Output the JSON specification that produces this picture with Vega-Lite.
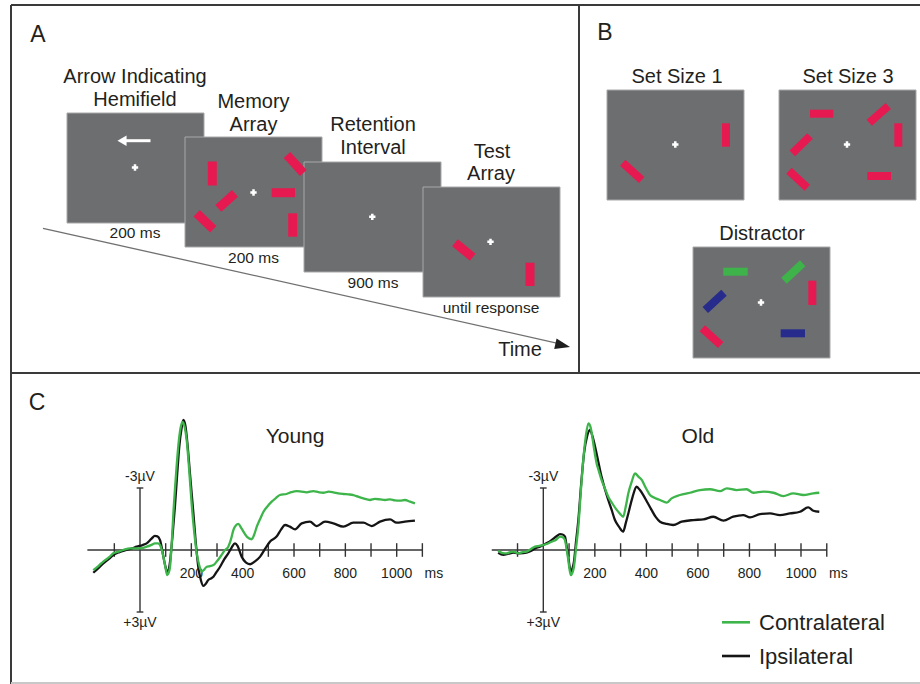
{
  "$schema": "https://vega.github.io/schema/vega-lite/v6.json",
  "width": 920,
  "height": 684,
  "autosize": "none",
  "padding": 0,
  "background": "white",
  "config": {"view": {"stroke": null}, "text": {"font": "Liberation Sans", "color": "#231f20"}},
  "layer": [
    {
      "encoding": {
        "x": {"field": "x", "type": "quantitative", "scale": {"domain": [0, 920], "nice": false, "zero": false}, "axis": null},
        "y": {"field": "y", "type": "quantitative", "scale": {"domain": [0, 684], "nice": false, "zero": false, "reverse": true}, "axis": null}
      },
      "layer": [
        {
          "data": {"values": [
            {"x": 11, "y": 5, "x2": 920, "y2": 5},
            {"x": 11, "y": 5, "x2": 11, "y2": 684},
            {"x": 579, "y": 5, "x2": 579, "y2": 373},
            {"x": 11, "y": 373, "x2": 920, "y2": 373}
          ]},
          "mark": {"type": "rule", "color": "#3a3a3a", "strokeWidth": 2},
          "encoding": {"x2": {"field": "x2"}, "y2": {"field": "y2"}}
        },
        {
          "data": {"values": [{"x": 11, "y": 683, "x2": 920, "y2": 683}]},
          "mark": {"type": "rule", "color": "#c8c8c8", "strokeWidth": 2},
          "encoding": {"x2": {"field": "x2"}, "y2": {"field": "y2"}}
        },
        {
          "data": {"values": [
            {"screen": "cue", "x": 67, "x2": 204, "y": 113, "y2": 223},
            {"screen": "memory", "x": 185, "x2": 322, "y": 137, "y2": 247},
            {"screen": "retention", "x": 304, "x2": 441, "y": 162, "y2": 272},
            {"screen": "test", "x": 423, "x2": 560, "y": 187, "y2": 297},
            {"screen": "ss1", "x": 607, "x2": 744, "y": 90, "y2": 200},
            {"screen": "ss3", "x": 779, "x2": 916, "y": 90, "y2": 200},
            {"screen": "distractor", "x": 693, "x2": 830, "y": 247, "y2": 358}
          ]},
          "mark": {"type": "rect", "fill": "#6d6e70", "stroke": "#a8a8a8", "strokeWidth": 1},
          "encoding": {"x2": {"field": "x2"}, "y2": {"field": "y2"}}
        },
        {
          "data": {"values": [
            {"panel": "A", "hue": "red", "x": 212.3, "y": 161.5, "x2": 212.3, "y2": 185.5},
            {"panel": "A", "hue": "red", "x": 218.3, "y": 208.3, "x2": 235, "y2": 193.3},
            {"panel": "A", "hue": "red", "x": 196.7, "y": 213.3, "x2": 213.3, "y2": 229.3},
            {"panel": "A", "hue": "red", "x": 271.7, "y": 192.7, "x2": 295, "y2": 192.7},
            {"panel": "A", "hue": "red", "x": 287, "y": 155, "x2": 303.3, "y2": 173},
            {"panel": "A", "hue": "red", "x": 292.7, "y": 213.3, "x2": 292.7, "y2": 236.7},
            {"panel": "A", "hue": "red", "x": 455, "y": 242.7, "x2": 472.7, "y2": 257.3},
            {"panel": "A", "hue": "red", "x": 530, "y": 262.7, "x2": 530, "y2": 286},
            {"panel": "B", "hue": "red", "x": 726, "y": 123.3, "x2": 726, "y2": 146.7},
            {"panel": "B", "hue": "red", "x": 622.7, "y": 162.7, "x2": 641.7, "y2": 180},
            {"panel": "B", "hue": "red", "x": 810, "y": 113.7, "x2": 833.3, "y2": 113.7},
            {"panel": "B", "hue": "red", "x": 869.3, "y": 122.7, "x2": 888.3, "y2": 106},
            {"panel": "B", "hue": "red", "x": 898.3, "y": 123.3, "x2": 898.3, "y2": 146.7},
            {"panel": "B", "hue": "red", "x": 792.3, "y": 153.3, "x2": 810, "y2": 136},
            {"panel": "B", "hue": "red", "x": 789, "y": 170.7, "x2": 807.3, "y2": 187.7},
            {"panel": "B", "hue": "red", "x": 867.3, "y": 176, "x2": 891, "y2": 176},
            {"panel": "B", "hue": "green", "x": 723.3, "y": 271.7, "x2": 747.7, "y2": 271.7},
            {"panel": "B", "hue": "green", "x": 784, "y": 280.7, "x2": 802.7, "y2": 263.3},
            {"panel": "B", "hue": "red", "x": 812.3, "y": 280.7, "x2": 812.3, "y2": 305},
            {"panel": "B", "hue": "blue", "x": 705.3, "y": 310, "x2": 724, "y2": 292.7},
            {"panel": "B", "hue": "red", "x": 702.3, "y": 328.3, "x2": 720.7, "y2": 345},
            {"panel": "B", "hue": "blue", "x": 780.7, "y": 333.3, "x2": 805, "y2": 333.3}
          ]},
          "layer": [
            {
              "transform": [{"filter": "datum.panel === 'A'"}],
              "mark": {"type": "rule", "strokeWidth": 9, "strokeCap": "butt"},
              "encoding": {
                "x2": {"field": "x2"}, "y2": {"field": "y2"},
                "color": {"field": "hue", "type": "nominal", "scale": {"domain": ["red", "green", "blue"], "range": ["#e61a50", "#3db34a", "#262b8c"]}, "legend": null}
              }
            },
            {
              "transform": [{"filter": "datum.panel === 'B'"}],
              "mark": {"type": "rule", "strokeWidth": 8, "strokeCap": "butt"},
              "encoding": {
                "x2": {"field": "x2"}, "y2": {"field": "y2"},
                "color": {"field": "hue", "type": "nominal", "scale": {"domain": ["red", "green", "blue"], "range": ["#e61a50", "#3db34a", "#262b8c"]}, "legend": null}
              }
            }
          ]
        },
        {
          "data": {"values": [
            {"x": 135, "y": 167.5}, {"x": 253.5, "y": 192.5}, {"x": 372.3, "y": 216.8}, {"x": 490.5, "y": 241.8},
            {"x": 675.3, "y": 144.5}, {"x": 847, "y": 144.5}, {"x": 761, "y": 302.5}
          ]},
          "mark": {"type": "point", "shape": "cross", "filled": true, "color": "white", "size": 40, "opacity": 1}
        },
        {
          "data": {"values": [{"x": 125, "y": 140.7, "x2": 150.5, "y2": 140.7}]},
          "mark": {"type": "rule", "color": "white", "strokeWidth": 3},
          "encoding": {"x2": {"field": "x2"}, "y2": {"field": "y2"}}
        },
        {
          "data": {"values": [{"x": 122, "y": 140.7}]},
          "mark": {"type": "point", "shape": "triangle-left", "filled": true, "color": "white", "size": 110, "opacity": 1}
        },
        {
          "data": {"values": [{"x": 43, "y": 228.3, "x2": 560, "y2": 343.8}]},
          "mark": {"type": "rule", "color": "#707070", "strokeWidth": 1.3},
          "encoding": {"x2": {"field": "x2"}, "y2": {"field": "y2"}}
        },
        {
          "data": {"values": [{"x": 562.7, "y": 345.3}]},
          "mark": {"type": "point", "shape": "M1,0L-1,-0.72L-1,0.72Z", "angle": 12.6, "filled": true, "color": "#1e1e1e", "size": 225, "opacity": 1}
        },
        {
          "data": {"values": [
            {"kind": "panel", "text": "A", "x": 38, "y": 35},
            {"kind": "panel", "text": "B", "x": 605, "y": 33},
            {"kind": "panel", "text": "C", "x": 37, "y": 403},
            {"kind": "title", "text": "Arrow Indicating", "x": 135, "y": 77},
            {"kind": "title", "text": "Hemifield", "x": 135, "y": 100},
            {"kind": "title", "text": "Memory", "x": 253.5, "y": 102},
            {"kind": "title", "text": "Array", "x": 253.5, "y": 124.5},
            {"kind": "title", "text": "Retention", "x": 373, "y": 125},
            {"kind": "title", "text": "Interval", "x": 373, "y": 148},
            {"kind": "title", "text": "Test", "x": 492, "y": 151.5},
            {"kind": "title", "text": "Array", "x": 491, "y": 173.5},
            {"kind": "title", "text": "Time", "x": 520, "y": 350},
            {"kind": "title", "text": "Set Size 1", "x": 677, "y": 77},
            {"kind": "title", "text": "Set Size 3", "x": 848, "y": 77},
            {"kind": "title", "text": "Distractor", "x": 762, "y": 234},
            {"kind": "dur", "text": "200 ms", "x": 135, "y": 233},
            {"kind": "dur", "text": "200 ms", "x": 253.5, "y": 258},
            {"kind": "dur", "text": "900 ms", "x": 373, "y": 283},
            {"kind": "dur", "text": "until response", "x": 491, "y": 308}
          ]},
          "layer": [
            {
              "transform": [{"filter": "datum.kind === 'panel'"}],
              "mark": {"type": "text", "fontSize": 23, "align": "center", "baseline": "middle"},
              "encoding": {"text": {"field": "text"}}
            },
            {
              "transform": [{"filter": "datum.kind === 'title'"}],
              "mark": {"type": "text", "fontSize": 20, "align": "center", "baseline": "middle"},
              "encoding": {"text": {"field": "text"}}
            },
            {
              "transform": [{"filter": "datum.kind === 'dur'"}],
              "mark": {"type": "text", "fontSize": 15.5, "align": "center", "baseline": "middle"},
              "encoding": {"text": {"field": "text"}}
            }
          ]
        },
        {
          "data": {"values": [
            {"series": "Contralateral", "x": 722, "y": 622.3, "x2": 750, "tx": 759},
            {"series": "Ipsilateral", "x": 722, "y": 656, "x2": 750, "tx": 759}
          ]},
          "layer": [
            {
              "mark": {"type": "rule", "strokeWidth": 2.6},
              "encoding": {
                "x2": {"field": "x2"},
                "stroke": {"field": "series", "type": "nominal", "scale": {"domain": ["Contralateral", "Ipsilateral"], "range": ["#3db54a", "#151515"]}, "legend": null}
              }
            },
            {
              "mark": {"type": "text", "fontSize": 22, "align": "left", "baseline": "middle", "dy": 1},
              "encoding": {
                "x": {"field": "tx", "type": "quantitative"},
                "text": {"field": "series"}
              }
            }
          ]
        }
      ]
    },
    {
      "encoding": {
        "x": {"field": "t", "type": "quantitative", "scale": {"domain": [-545.4, 3038.6], "nice": false, "zero": false}, "axis": null},
        "y": {"field": "v", "type": "quantitative", "scale": {"domain": [-26.61, 6.483], "nice": false, "zero": false, "reverse": true}, "axis": null}
      },
      "layer": [
        {
          "data": {"values": [
            {"t": -205, "v": 0, "t2": 1100, "v2": 0},
            {"t": 0, "v": -3, "t2": 0, "v2": 3},
            {"t": -13, "v": -3, "t2": 13, "v2": -3},
            {"t": -13, "v": 3, "t2": 13, "v2": 3},
            {"t": -100, "v": -0.33, "t2": -100, "v2": 0.33},
            {"t": 100, "v": -0.33, "t2": 100, "v2": 0.33},
            {"t": 200, "v": -0.33, "t2": 200, "v2": 0.33},
            {"t": 300, "v": -0.33, "t2": 300, "v2": 0.33},
            {"t": 400, "v": -0.33, "t2": 400, "v2": 0.33},
            {"t": 500, "v": -0.33, "t2": 500, "v2": 0.33},
            {"t": 600, "v": -0.33, "t2": 600, "v2": 0.33},
            {"t": 700, "v": -0.33, "t2": 700, "v2": 0.33},
            {"t": 800, "v": -0.33, "t2": 800, "v2": 0.33},
            {"t": 900, "v": -0.33, "t2": 900, "v2": 0.33},
            {"t": 1000, "v": -0.33, "t2": 1000, "v2": 0.33},
            {"t": 1100, "v": -0.33, "t2": 1100, "v2": 0.33}
          ]},
          "mark": {"type": "rule", "color": "#333333", "strokeWidth": 1.4},
          "encoding": {"x2": {"field": "t2"}, "y2": {"field": "v2"}}
        },
        {
          "data": {"values": [
            {"t": 200, "v": 1.18, "label": "200"},
            {"t": 400, "v": 1.18, "label": "400"},
            {"t": 600, "v": 1.18, "label": "600"},
            {"t": 800, "v": 1.18, "label": "800"},
            {"t": 1000, "v": 1.18, "label": "1000"},
            {"t": 1145, "v": 1.18, "label": "ms"},
            {"t": 0, "v": -3.55, "label": "-3µV"},
            {"t": 0, "v": 3.55, "label": "+3µV"}
          ]},
          "mark": {"type": "text", "fontSize": 14, "align": "center", "baseline": "middle"},
          "encoding": {"text": {"field": "label"}}
        },
        {
          "data": {"values": [{"t": 604, "v": -5.47, "label": "Young"}]},
          "mark": {"type": "text", "fontSize": 21, "align": "center", "baseline": "middle"},
          "encoding": {"text": {"field": "label"}}
        },
        {
          "data": {"values": [
            {"t": -182, "v": 1.1}, {"t": -160, "v": 0.85}, {"t": -143, "v": 0.65}, {"t": -120, "v": 0.42}, {"t": -104, "v": 0.24},
            {"t": -80, "v": 0.1}, {"t": -52, "v": 0.0}, {"t": -30, "v": -0.08}, {"t": -13, "v": -0.16}, {"t": 10, "v": -0.24},
            {"t": 26, "v": -0.32}, {"t": 45, "v": -0.55}, {"t": 58, "v": -0.68}, {"t": 68, "v": -0.66}, {"t": 78, "v": -0.48},
            {"t": 85, "v": -0.1}, {"t": 91, "v": 0.32}, {"t": 100, "v": 0.85}, {"t": 106, "v": 1.1}, {"t": 112, "v": 0.95},
            {"t": 117, "v": 0.56}, {"t": 126, "v": -0.6}, {"t": 136, "v": -2.1}, {"t": 145, "v": -3.7}, {"t": 153, "v": -5.0},
            {"t": 162, "v": -5.9}, {"t": 169, "v": -6.3}, {"t": 177, "v": -6.0}, {"t": 184, "v": -5.24}, {"t": 196, "v": -3.5},
            {"t": 208, "v": -1.77}, {"t": 217, "v": -0.4}, {"t": 227, "v": 0.81}, {"t": 237, "v": 1.45}, {"t": 247, "v": 1.74},
            {"t": 257, "v": 1.62}, {"t": 266, "v": 1.45}, {"t": 276, "v": 1.38}, {"t": 286, "v": 1.29}, {"t": 299, "v": 1.05},
            {"t": 312, "v": 0.81}, {"t": 328, "v": 0.45}, {"t": 344, "v": 0.16}, {"t": 357, "v": -0.12}, {"t": 370, "v": -0.32},
            {"t": 380, "v": -0.2}, {"t": 396, "v": 0.32}, {"t": 412, "v": 0.6}, {"t": 429, "v": 0.69}, {"t": 448, "v": 0.55},
            {"t": 468, "v": 0.32}, {"t": 487, "v": -0.05}, {"t": 506, "v": -0.4}, {"t": 532, "v": -0.65}, {"t": 550, "v": -1.0},
            {"t": 565, "v": -1.21}, {"t": 584, "v": -1.13}, {"t": 604, "v": -1.0}, {"t": 630, "v": -1.29}, {"t": 662, "v": -1.37},
            {"t": 688, "v": -1.16}, {"t": 721, "v": -1.37}, {"t": 753, "v": -1.29}, {"t": 792, "v": -1.13}, {"t": 831, "v": -1.32},
            {"t": 870, "v": -1.32}, {"t": 903, "v": -1.16}, {"t": 935, "v": -1.37}, {"t": 974, "v": -1.48}, {"t": 1000, "v": -1.32},
            {"t": 1032, "v": -1.37}, {"t": 1071, "v": -1.42}
          ]},
          "mark": {"type": "line", "color": "#151515", "strokeWidth": 2.3, "interpolate": "monotone"}
        },
        {
          "data": {"values": [
            {"t": -182, "v": 0.97}, {"t": -160, "v": 0.75}, {"t": -143, "v": 0.56}, {"t": -120, "v": 0.35}, {"t": -104, "v": 0.16},
            {"t": -85, "v": 0.08}, {"t": -65, "v": 0.0}, {"t": -39, "v": -0.08}, {"t": 0, "v": -0.08}, {"t": 26, "v": -0.16},
            {"t": 45, "v": -0.25}, {"t": 58, "v": -0.32}, {"t": 70, "v": -0.32}, {"t": 78, "v": -0.24}, {"t": 85, "v": 0.0},
            {"t": 91, "v": 0.32}, {"t": 100, "v": 0.9}, {"t": 106, "v": 1.21}, {"t": 112, "v": 1.1}, {"t": 117, "v": 0.81},
            {"t": 124, "v": -0.4}, {"t": 130, "v": -1.77}, {"t": 140, "v": -3.6}, {"t": 149, "v": -5.0}, {"t": 158, "v": -5.9},
            {"t": 166, "v": -6.2}, {"t": 174, "v": -5.95}, {"t": 182, "v": -5.3}, {"t": 192, "v": -3.8}, {"t": 201, "v": -2.26},
            {"t": 211, "v": -0.9}, {"t": 221, "v": 0.16}, {"t": 230, "v": 0.7}, {"t": 240, "v": 1.05}, {"t": 250, "v": 0.95},
            {"t": 260, "v": 0.81}, {"t": 273, "v": 0.78}, {"t": 286, "v": 0.73}, {"t": 299, "v": 0.56}, {"t": 318, "v": 0.24},
            {"t": 331, "v": 0.0}, {"t": 344, "v": -0.16}, {"t": 354, "v": -0.5}, {"t": 364, "v": -0.97}, {"t": 374, "v": -1.2},
            {"t": 383, "v": -1.26}, {"t": 393, "v": -1.1}, {"t": 403, "v": -0.89}, {"t": 418, "v": -0.62}, {"t": 435, "v": -0.52},
            {"t": 445, "v": -0.75}, {"t": 455, "v": -1.13}, {"t": 468, "v": -1.5}, {"t": 481, "v": -1.85}, {"t": 497, "v": -2.12},
            {"t": 513, "v": -2.34}, {"t": 530, "v": -2.52}, {"t": 545, "v": -2.66}, {"t": 571, "v": -2.71}, {"t": 590, "v": -2.8},
            {"t": 610, "v": -2.85}, {"t": 630, "v": -2.82}, {"t": 649, "v": -2.79}, {"t": 675, "v": -2.85}, {"t": 695, "v": -2.8},
            {"t": 714, "v": -2.77}, {"t": 735, "v": -2.82}, {"t": 753, "v": -2.79}, {"t": 772, "v": -2.74}, {"t": 792, "v": -2.71},
            {"t": 812, "v": -2.69}, {"t": 831, "v": -2.66}, {"t": 850, "v": -2.58}, {"t": 870, "v": -2.5}, {"t": 896, "v": -2.42},
            {"t": 915, "v": -2.47}, {"t": 935, "v": -2.45}, {"t": 955, "v": -2.42}, {"t": 974, "v": -2.45}, {"t": 993, "v": -2.4},
            {"t": 1013, "v": -2.39}, {"t": 1032, "v": -2.42}, {"t": 1052, "v": -2.34}, {"t": 1071, "v": -2.26}
          ]},
          "mark": {"type": "line", "color": "#3db54a", "strokeWidth": 2.3, "interpolate": "monotone"}
        }
      ]
    },
    {
      "encoding": {
        "x": {"field": "t", "type": "quantitative", "scale": {"domain": [-2108.3, 1461.8], "nice": false, "zero": false}, "axis": null},
        "y": {"field": "v", "type": "quantitative", "scale": {"domain": [-26.61, 6.483], "nice": false, "zero": false, "reverse": true}, "axis": null}
      },
      "layer": [
        {
          "data": {"values": [
            {"t": -200, "v": 0, "t2": 1100, "v2": 0},
            {"t": 0, "v": -3, "t2": 0, "v2": 3},
            {"t": -13, "v": -3, "t2": 13, "v2": -3},
            {"t": -13, "v": 3, "t2": 13, "v2": 3},
            {"t": -100, "v": -0.33, "t2": -100, "v2": 0.33},
            {"t": 100, "v": -0.33, "t2": 100, "v2": 0.33},
            {"t": 200, "v": -0.33, "t2": 200, "v2": 0.33},
            {"t": 300, "v": -0.33, "t2": 300, "v2": 0.33},
            {"t": 400, "v": -0.33, "t2": 400, "v2": 0.33},
            {"t": 500, "v": -0.33, "t2": 500, "v2": 0.33},
            {"t": 600, "v": -0.33, "t2": 600, "v2": 0.33},
            {"t": 700, "v": -0.33, "t2": 700, "v2": 0.33},
            {"t": 800, "v": -0.33, "t2": 800, "v2": 0.33},
            {"t": 900, "v": -0.33, "t2": 900, "v2": 0.33},
            {"t": 1000, "v": -0.33, "t2": 1000, "v2": 0.33},
            {"t": 1100, "v": -0.33, "t2": 1100, "v2": 0.33}
          ]},
          "mark": {"type": "rule", "color": "#333333", "strokeWidth": 1.4},
          "encoding": {"x2": {"field": "t2"}, "y2": {"field": "v2"}}
        },
        {
          "data": {"values": [
            {"t": 200, "v": 1.18, "label": "200"},
            {"t": 400, "v": 1.18, "label": "400"},
            {"t": 600, "v": 1.18, "label": "600"},
            {"t": 800, "v": 1.18, "label": "800"},
            {"t": 1000, "v": 1.18, "label": "1000"},
            {"t": 1145, "v": 1.18, "label": "ms"},
            {"t": 0, "v": -3.55, "label": "-3µV"},
            {"t": 0, "v": 3.55, "label": "+3µV"}
          ]},
          "mark": {"type": "text", "fontSize": 14, "align": "center", "baseline": "middle"},
          "encoding": {"text": {"field": "label"}}
        },
        {
          "data": {"values": [{"t": 600, "v": -5.47, "label": "Old"}]},
          "mark": {"type": "text", "fontSize": 21, "align": "center", "baseline": "middle"},
          "encoding": {"text": {"field": "label"}}
        },
        {
          "data": {"values": [
            {"t": -175, "v": 0.13}, {"t": -155, "v": 0.24}, {"t": -135, "v": 0.18}, {"t": -116, "v": 0.13}, {"t": -90, "v": 0.16},
            {"t": -65, "v": 0.13}, {"t": -48, "v": 0.05}, {"t": -32, "v": -0.08}, {"t": -15, "v": -0.15}, {"t": 0, "v": -0.24},
            {"t": 16, "v": -0.35}, {"t": 32, "v": -0.48}, {"t": 50, "v": -0.65}, {"t": 65, "v": -0.77}, {"t": 75, "v": -0.75},
            {"t": 84, "v": -0.65}, {"t": 91, "v": -0.15}, {"t": 97, "v": 0.32}, {"t": 102, "v": 0.8}, {"t": 107, "v": 1.05},
            {"t": 113, "v": 0.9}, {"t": 119, "v": 0.56}, {"t": 127, "v": -0.4}, {"t": 136, "v": -1.45}, {"t": 147, "v": -3.2},
            {"t": 158, "v": -4.68}, {"t": 170, "v": -5.5}, {"t": 181, "v": -5.81}, {"t": 191, "v": -5.5}, {"t": 201, "v": -5.0},
            {"t": 213, "v": -4.3}, {"t": 226, "v": -3.55}, {"t": 239, "v": -2.95}, {"t": 252, "v": -2.42}, {"t": 265, "v": -1.95},
            {"t": 278, "v": -1.45}, {"t": 294, "v": -1.12}, {"t": 310, "v": -0.89}, {"t": 320, "v": -1.3}, {"t": 330, "v": -1.77},
            {"t": 346, "v": -2.55}, {"t": 362, "v": -3.06}, {"t": 375, "v": -2.9}, {"t": 388, "v": -2.66}, {"t": 404, "v": -2.3},
            {"t": 420, "v": -1.94}, {"t": 436, "v": -1.6}, {"t": 453, "v": -1.37}, {"t": 479, "v": -1.26}, {"t": 504, "v": -1.21},
            {"t": 537, "v": -1.37}, {"t": 582, "v": -1.45}, {"t": 621, "v": -1.48}, {"t": 660, "v": -1.61}, {"t": 699, "v": -1.42},
            {"t": 737, "v": -1.61}, {"t": 776, "v": -1.69}, {"t": 802, "v": -1.58}, {"t": 841, "v": -1.74}, {"t": 880, "v": -1.77},
            {"t": 918, "v": -1.69}, {"t": 957, "v": -1.77}, {"t": 996, "v": -1.85}, {"t": 1028, "v": -2.06}, {"t": 1048, "v": -1.9},
            {"t": 1071, "v": -1.85}
          ]},
          "mark": {"type": "line", "color": "#151515", "strokeWidth": 2.3, "interpolate": "monotone"}
        },
        {
          "data": {"values": [
            {"t": -175, "v": 0.03}, {"t": -158, "v": 0.15}, {"t": -142, "v": 0.16}, {"t": -128, "v": 0.1}, {"t": -116, "v": 0.08},
            {"t": -97, "v": 0.16}, {"t": -80, "v": 0.1}, {"t": -65, "v": 0.08}, {"t": -48, "v": -0.05}, {"t": -32, "v": -0.16},
            {"t": -15, "v": -0.2}, {"t": 0, "v": -0.24}, {"t": 16, "v": -0.3}, {"t": 32, "v": -0.4}, {"t": 50, "v": -0.5},
            {"t": 65, "v": -0.65}, {"t": 75, "v": -0.62}, {"t": 84, "v": -0.48}, {"t": 91, "v": 0.0}, {"t": 97, "v": 0.48},
            {"t": 102, "v": 0.95}, {"t": 107, "v": 1.21}, {"t": 113, "v": 1.1}, {"t": 119, "v": 0.81}, {"t": 127, "v": -0.1},
            {"t": 136, "v": -1.13}, {"t": 146, "v": -2.9}, {"t": 155, "v": -4.35}, {"t": 165, "v": -5.5}, {"t": 175, "v": -6.13},
            {"t": 182, "v": -6.0}, {"t": 188, "v": -5.65}, {"t": 197, "v": -4.9}, {"t": 207, "v": -4.19}, {"t": 216, "v": -3.8},
            {"t": 226, "v": -3.39}, {"t": 239, "v": -2.98}, {"t": 252, "v": -2.58}, {"t": 268, "v": -2.25}, {"t": 285, "v": -1.94},
            {"t": 298, "v": -1.75}, {"t": 310, "v": -1.61}, {"t": 320, "v": -2.1}, {"t": 330, "v": -2.74}, {"t": 343, "v": -3.3},
            {"t": 356, "v": -3.71}, {"t": 369, "v": -3.55}, {"t": 382, "v": -3.39}, {"t": 398, "v": -3.0}, {"t": 414, "v": -2.66},
            {"t": 433, "v": -2.52}, {"t": 453, "v": -2.42}, {"t": 479, "v": -2.29}, {"t": 498, "v": -2.5}, {"t": 530, "v": -2.66},
            {"t": 569, "v": -2.77}, {"t": 608, "v": -2.9}, {"t": 647, "v": -2.94}, {"t": 686, "v": -2.85}, {"t": 712, "v": -2.98},
            {"t": 750, "v": -2.9}, {"t": 789, "v": -2.94}, {"t": 815, "v": -2.77}, {"t": 854, "v": -2.82}, {"t": 893, "v": -2.77},
            {"t": 931, "v": -2.61}, {"t": 970, "v": -2.74}, {"t": 1009, "v": -2.66}, {"t": 1048, "v": -2.74}, {"t": 1071, "v": -2.77}
          ]},
          "mark": {"type": "line", "color": "#3db54a", "strokeWidth": 2.3, "interpolate": "monotone"}
        }
      ]
    }
  ],
  "resolve": {"scale": {"x": "independent", "y": "independent", "color": "independent"}}
}
